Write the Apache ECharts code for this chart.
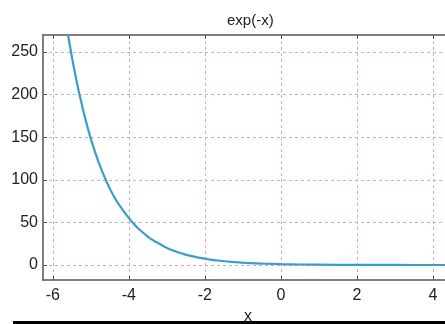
<!DOCTYPE html>
<html>
<head>
<meta charset="utf-8">
<script src="https://cdn.jsdelivr.net/npm/echarts@6/dist/echarts.min.js"></script>
<style>
html,body{margin:0;padding:0;background:#fff;}
#c{width:445px;height:324px;}
</style>
</head>
<body>
<div id="c"></div>
<script>
const xValues = [-5.6,-5.4,-5.2,-5.0,-4.8,-4.6,-4.4,-4.2,-4.0,-3.8,-3.6,-3.4,-3.2,-3.0,-2.8,-2.6,-2.4,-2.2,-2.0,-1.6,-1.2,-0.8,-0.4,0,0.5,1,2,3,4,4.6];
const yValues = [270,221,181,148,121,99,81,67,55,45,37,30,25,20,16.4,13.5,11,9,7.4,5,3.3,2.2,1.5,1,0.6,0.37,0.14,0.05,0.02,0.01];
const xTicks = [-6,-4,-2,0,2,4];
const yTicks = [0,50,100,150,200,250];
const titleText = 'exp(-x)';
const xName = 'x';

const chart = echarts.init(document.getElementById('c'), null, {renderer:'canvas'});
const font = 'Liberation Sans, Arial, sans-serif';
const gridLine = {show:true, lineStyle:{color:'#d4a6d6', type:[3,3], width:1}};
chart.setOption({
  animation:false,
  backgroundColor:'#fff',
  title:{text:titleText, left:222, top:8, textStyle:{fontFamily:font, fontSize:15, fontWeight:'normal', color:'#222'}},
  grid:{left:43, top:35, right:-8, bottom:44, containLabel:false, outerBoundsMode:'none'},
  xAxis:[{
    type:'value', min:-6.26, max:4.53, position:'bottom',
    name:xName, nameLocation:'middle', nameGap:28,
    nameTextStyle:{fontFamily:font, fontSize:16, color:'#222'},
    axisLine:{show:true, onZero:false, lineStyle:{color:'#555', width:1.5}},
    axisTick:{show:true, inside:true, length:4, customValues:xTicks, lineStyle:{color:'#555'}},
    axisLabel:{customValues:xTicks, fontFamily:font, fontSize:16, color:'#222', margin:8},
    splitLine:gridLine
  },{
    type:'value', min:-6.26, max:4.53, position:'top',
    axisLine:{show:true, onZero:false, lineStyle:{color:'#555', width:1.5}},
    axisTick:{show:true, inside:true, length:4, customValues:xTicks, lineStyle:{color:'#555'}},
    axisLabel:{show:false},
    splitLine:{show:false}
  }],
  yAxis:{
    type:'value', min:-17.6, max:270,
    axisLine:{show:true, onZero:false, lineStyle:{color:'#555', width:1.5}},
    axisTick:{show:true, inside:true, length:4, customValues:yTicks, lineStyle:{color:'#555'}},
    axisLabel:{customValues:yTicks, fontFamily:font, fontSize:16, color:'#222', margin:5},
    splitLine:gridLine
  },
  series:[{
    type:'line', xAxisIndex:0, showSymbol:false, smooth:true, clip:true,
    data:xValues.map((x,i)=>[x,yValues[i]]),
    lineStyle:{color:'#3a9fc8', width:2.2}
  }],
  graphic:[{type:'rect', shape:{x:13, y:321, width:432, height:3}, style:{fill:'#000'}}]
});
</script>
</body>
</html>
